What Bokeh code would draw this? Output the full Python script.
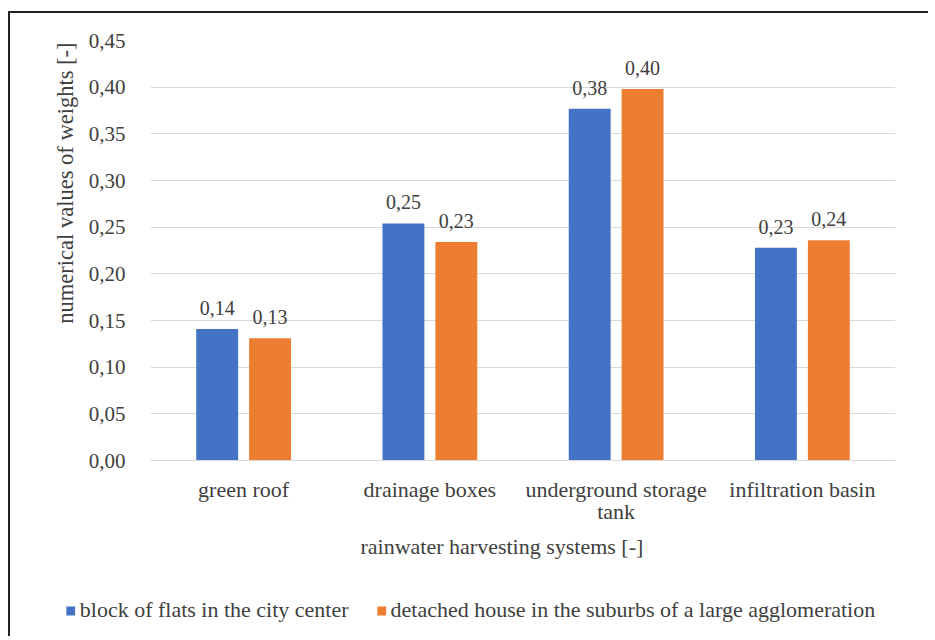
from bokeh.plotting import figure
from bokeh.layouts import column
from bokeh.models import (Range1d, FixedTicker, CustomJSTickFormatter, ColumnDataSource,
                          LabelSet, Title, Legend, LegendItem)
from bokeh.embed import file_html
from bokeh.resources import INLINE

categories = ["green roof", "drainage boxes", "underground storage\ntank", "infiltration basin"]
series_names = ["block of flats in the city center",
                "detached house in the suburbs of a large agglomeration"]
block_flats = [0.141, 0.254, 0.377, 0.228]
detached_house = [0.131, 0.234, 0.398, 0.236]
y_ticks = [0.0, 0.05, 0.10, 0.15, 0.20, 0.25, 0.30, 0.35, 0.40, 0.45]

FONT = "'Liberation Serif', serif"
TXT = "#404040"
BLUE = "#4472C4"
ORANGE = "#ED7D31"
BORDER = "2px solid #222222"

p = figure(width=920, height=573, output_backend="svg", toolbar_location=None,
           x_range=Range1d(0, 4), y_range=Range1d(0, 0.45),
           min_border_left=140, min_border_right=35, min_border_top=27, min_border_bottom=126)
p.outline_line_color = None
p.styles = {"margin-top": "11px", "margin-left": "8px",
            "border-top": BORDER, "border-left": BORDER}

centers = [i + 0.5 for i in range(len(categories))]
off = 0.142
w = 0.225

src1 = ColumnDataSource(dict(x=[c - off for c in centers], top=block_flats,
                             lab=[f"{v:.2f}".replace(".", ",") for v in block_flats]))
src2 = ColumnDataSource(dict(x=[c + off for c in centers], top=detached_house,
                             lab=[f"{v:.2f}".replace(".", ",") for v in detached_house]))
p.vbar(x="x", top="top", width=w, source=src1, fill_color=BLUE, line_color=None)
p.vbar(x="x", top="top", width=w, source=src2, fill_color=ORANGE, line_color=None)

for s in (src1, src2):
    p.add_layout(LabelSet(x="x", y="top", text="lab", source=s, text_align="center",
                          text_baseline="bottom", y_offset=14, text_font=FONT,
                          text_font_size="20px", text_color=TXT))

# axes
p.yaxis.ticker = FixedTicker(ticks=y_ticks)
p.yaxis.formatter = CustomJSTickFormatter(code="return tick.toFixed(2).replace('.', ',');")
p.yaxis.axis_line_color = None
p.yaxis.major_tick_line_color = None
p.yaxis.minor_tick_line_color = None
p.yaxis.major_label_standoff = 19
p.yaxis.major_label_text_font = FONT
p.yaxis.major_label_text_font_size = "21px"
p.yaxis.major_label_text_color = TXT

p.xaxis.ticker = FixedTicker(ticks=centers)
p.xaxis.major_label_overrides = {c: n for c, n in zip(centers, categories)}
p.xaxis.axis_line_color = "#d9d9d9"
p.xaxis.major_tick_line_color = None
p.xaxis.minor_tick_line_color = None
p.xaxis.major_label_standoff = 10
p.xaxis.major_label_text_font = FONT
p.xaxis.major_label_text_font_size = "22px"
p.xaxis.major_label_text_line_height = 0.9
p.xaxis.major_label_text_color = TXT

p.xgrid.grid_line_color = None
p.ygrid.ticker = FixedTicker(ticks=y_ticks)
p.ygrid.grid_line_color = "#d9d9d9"
p.ygrid.grid_line_width = 1

# axis titles
p.add_layout(Title(text="numerical values of weights [-]", align="right", offset=2,
                   text_font=FONT, text_font_size="22.5px", text_color=TXT,
                   text_font_style="normal", standoff=15), "left")
p.add_layout(Title(text="rainwater harvesting systems [-]", align="left", offset=210,
                   text_font=FONT, text_font_size="22px", text_color=TXT,
                   text_font_style="normal", standoff=9), "below")

# legend strip
p2 = figure(width=920, height=52, output_backend="svg", toolbar_location=None,
            x_range=Range1d(0, 1), y_range=Range1d(0, 1),
            x_axis_location=None, y_axis_location=None,
            min_border_left=0, min_border_right=0, min_border_top=0, min_border_bottom=0)
p2.outline_line_color = None
p2.xgrid.grid_line_color = None
p2.ygrid.grid_line_color = None
p2.styles = {"margin-left": "8px", "border-left": BORDER}
for fig in (p, p2):
    try:
        fig.frame_align = False
    except Exception:
        pass
g1 = p2.vbar(x=[5], top=[5], bottom=[4], width=0.1, fill_color=BLUE, line_color=None)
g2 = p2.vbar(x=[5], top=[5], bottom=[4], width=0.1, fill_color=ORANGE, line_color=None)

legend = Legend(items=[LegendItem(label=series_names[0], renderers=[g1]),
                       LegendItem(label=series_names[1], renderers=[g2])],
                orientation="horizontal", location="center", margin=0,
                border_line_color=None, background_fill_alpha=0, padding=0,
                glyph_width=11, glyph_height=11, label_standoff=4, spacing=27,
                label_text_font=FONT, label_text_font_size="22px", label_text_color=TXT)
p2.add_layout(legend, "center")

layout = column(p, p2, spacing=0)
open("out.html", "w").write(file_html(layout, INLINE))
